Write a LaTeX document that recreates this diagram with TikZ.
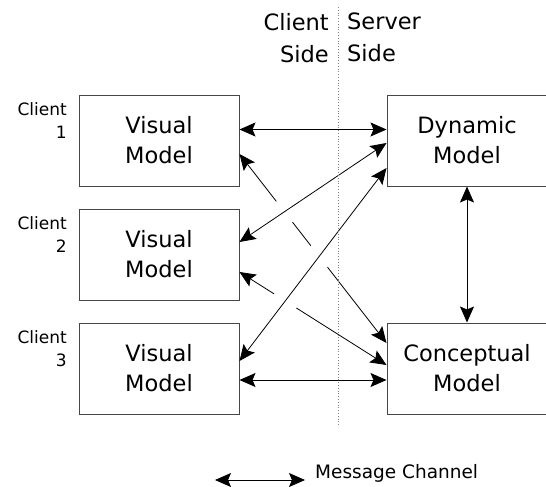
\documentclass[tikz,border=0pt]{standalone}
\usepackage{fontspec}
\setmainfont{DejaVu Sans}
\usetikzlibrary{positioning,arrows.meta}

\begin{document}
\begin{tikzpicture}[x=1pt, y=-1pt]
    \tikzset{
        modell/.style={rectangle, draw=Rand_grau, line width=1pt, minimum width=160pt, minimum height=91pt, inner sep=0pt, align=center, font=\fontsize{22.5}{30}\selectfont},
        kanal/.style={{Stealth[length=16pt,width=14pt,inset=3pt]}-{Stealth[length=16pt,width=14pt,inset=3pt]}, line width=0.8pt},
        bruecke/.style={preaction={draw=white, line width=26pt, shorten <=42pt, shorten >=42pt, arrows=-}},
        clientname/.style={font=\fontsize{17}{23}\selectfont, align=right, inner sep=0pt, anchor=north east},
        seite/.style={font=\fontsize{22.5}{32}\selectfont, inner sep=0pt}
    }
\definecolor{Rand_grau}{RGB}{70,70,70}
\useasboundingbox (0,0) rectangle (546,487);

% Client-Seite (3 Clients)
\foreach \i in {1,2,3} {
    \node[modell] (visual\i) at (159,{140.5+(\i-1)*114}) {Visual\\Model};
    \node[clientname] (client\i) at (67,{102+(\i-1)*114}) {Client\\\i};
}

% Server-Seite
\node[modell] (dynamic) at (467,140.5) {Dynamic\\Model};
\node[modell] (conceptual) at (467,368.5) {Conceptual\\Model};

% Kopf
\node[seite, align=right, anchor=north east] (clientside) at (329,13) {Client\\Side};
\node[seite, align=left, anchor=north west] (serverside) at (347,13) {Server\\Side};

% Verbindungen: Visual -> Conceptual (unten liegend)
\draw[kanal] ([yshift=-13.5pt]visual1.east) -- ([yshift=25.5pt]conceptual.west);
\draw[kanal] ([yshift=-17.5pt]visual2.east) -- ([yshift=3.5pt]conceptual.west);

% Verbindungen: Visual -> Dynamic (darueber)
\draw[kanal, bruecke] ([yshift=12.5pt]visual2.east) -- ([yshift=-2.5pt]dynamic.west);
\draw[kanal, bruecke] ([yshift=7.5pt]visual3.east) -- ([yshift=-27.5pt]dynamic.west);

% Waagrechte Verbindungen
\draw[kanal] ([yshift=11pt]visual1.east) -- ([yshift=11pt]dynamic.west);
\draw[kanal] ([yshift=-11.5pt]visual3.east) -- ([yshift=-11.5pt]conceptual.west);

% Dynamic <-> Conceptual
\draw[kanal] (dynamic.south) -- (conceptual.north);

% Trennlinie
\coordinate (trennoben) at (338,7);
\coordinate (trennunten) at (338,425);
\draw[dotted, gray, line width=0.8pt] (trennoben) -- (trennunten);

% Legende
\coordinate (legendeA) at (215,480);
\coordinate (legendeB) at (305,480);
\draw[kanal] (legendeA) -- (legendeB);
\node[font=\fontsize{18.5}{22}\selectfont, anchor=base west, inner sep=0pt] (legende) at (315,478) {Message Channel};

\end{tikzpicture}
\end{document}
